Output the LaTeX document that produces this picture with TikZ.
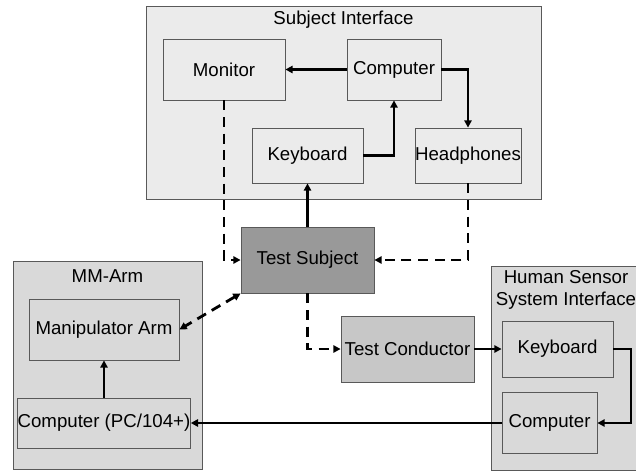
\documentclass[tikz,border=0pt]{standalone}
\usepackage{fontspec}
\setmainfont{Liberation Sans}
\usetikzlibrary{arrows.meta}
\begin{document}
\begin{tikzpicture}[x=0.75pt,y=-0.75pt,
  font=\fontsize{14}{17}\selectfont,
  panel/.style={draw=black!65,line width=0.6pt},
  box/.style={draw=black!65,line width=0.6pt,rectangle,inner sep=0pt},
  tip/.tip={Triangle[length=5.5pt,width=5.5pt]},
  link/.style={line width=2.1pt,-tip},
  dlink/.style={link,dash pattern=on 7.5pt off 5pt},
  every node/.style={text=black}]
\clip (0,0) rectangle (636,471);
\fill[white] (0,0) rectangle (636,471);

% enclosing panels
\draw[panel,fill=black!8] (146,6) rectangle (541,199);
\node (sititle) at (343.5,20) {Subject Interface};
\draw[panel,fill=black!15] (13,261) rectangle (202,469);
\node (mmtitle) at (107.5,276) {MM-Arm};
\draw[panel,fill=black!15] (491,266) rectangle (660,470);
\node[align=center] (hstitle) at (566,290) {Human Sensor\\System Interface};

% subject interface
\node[box,fill=black!8,minimum width=122*0.75pt,minimum height=61*0.75pt] (mon) at (224,69.5) {Monitor};
\node[box,fill=black!8,minimum width=94*0.75pt,minimum height=61*0.75pt] (comp) at (394,69.5) {Computer};
\node[box,fill=black!8,minimum width=111*0.75pt,minimum height=55*0.75pt] (kb) at (307.5,155.5) {Keyboard};
\node[box,fill=black!8,minimum width=100*0.75pt,minimum height=55*0.75pt] (hp) at (468,155.5) {Headphones};

% test subject and conductor
\node[box,fill=black!40,minimum width=133*0.75pt,minimum height=66*0.75pt] (ts) at (307.5,260) {Test Subject};
\node[box,fill=black!22,minimum width=133*0.75pt,minimum height=66*0.75pt] (tc) at (407.5,349) {Test Conductor};

% MM-Arm
\node[box,fill=black!15,minimum width=150*0.75pt,minimum height=61*0.75pt] (arm) at (104,329.5) {Manipulator Arm};
\node[box,fill=black!15,minimum width=162*0.75pt,minimum height=50*0.75pt] (pc) at (104,423) {Computer (PC/104+)};

% human sensor system interface
\node[box,fill=black!15,minimum width=111*0.75pt,minimum height=56*0.75pt] (hskb) at (557.5,349) {Keyboard};
\node[box,fill=black!15,minimum width=95*0.75pt,minimum height=61*0.75pt] (hspc) at (549.5,423) {Computer};
\coordinate (hsturn) at (631,349);

% solid connectors
\draw[link] (comp.west) -- (mon.east);
\draw[link] (kb.east) -| (comp.south);
\draw[link] (comp.east) -| (hp.north);
\draw[link] (ts.north) -- (kb.south);
\draw[link] (tc.east) -- (hskb.west);
\draw[link] (hskb.east) -- (hsturn) |- (hspc.east);
\draw[link] (hspc.west) -- (pc.east);
\draw[link] (pc.north) -- (arm.south);

% dashed connectors
\draw[dlink] (mon.south) |- (ts.west);
\draw[dlink] (hp.south) |- (ts.east);
\draw[dlink] (ts.south) |- (tc.west);
\draw[dlink,tip-tip] (ts.south west) -- (arm.east);
\end{tikzpicture}
\end{document}
